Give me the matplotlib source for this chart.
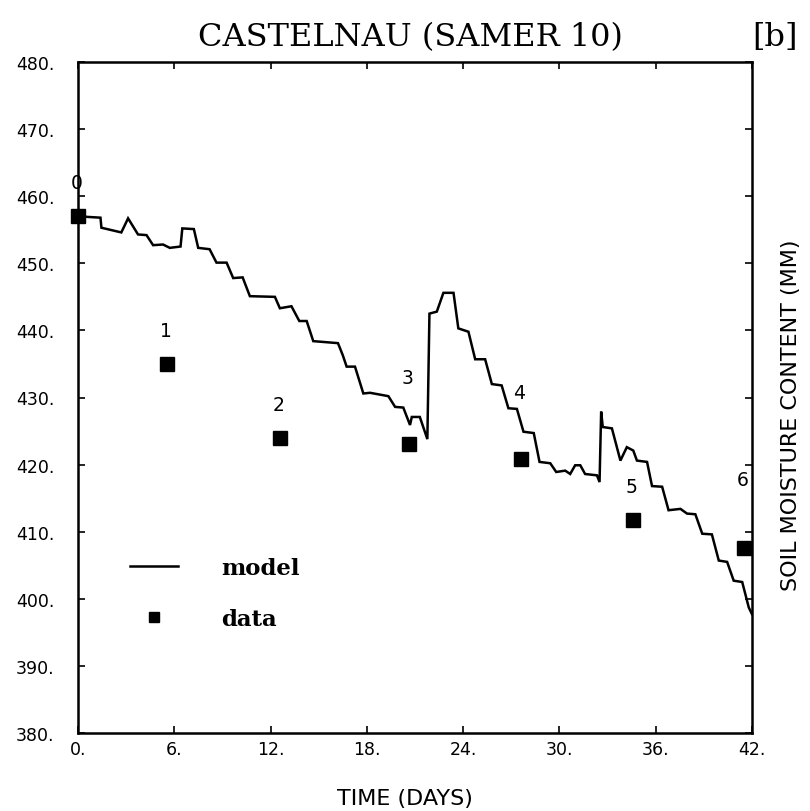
import matplotlib
matplotlib.use("Agg")
import matplotlib.pyplot as plt
from matplotlib.lines import Line2D
from matplotlib.ticker import FuncFormatter

# ---- data ----
model_days = [0, 1.4, 1.46, 2.7, 3.12, 3.74, 4.27, 4.68, 5.3, 5.72, 6.39, 6.5,
              7.22, 7.49, 8.2, 8.63, 9.26, 9.67, 10.26, 10.71, 12.27, 12.58,
              13.3, 13.79, 14.25, 14.66, 16.2, 16.5, 16.74, 17.26, 17.78, 18.2,
              19.34, 19.76, 20.27, 20.69, 20.8, 21.3, 21.77, 21.9, 22.36, 22.77,
              23.4, 23.7, 24.33, 24.75, 25.37, 25.79, 26.4, 26.82, 27.35, 27.76,
              28.4, 28.76, 29.43, 29.8, 30.36, 30.67, 30.98, 31.3, 31.6, 32.34,
              32.5, 32.6, 32.7, 33.27, 33.8, 34.2, 34.6, 34.83, 35.46, 35.77,
              36.4, 36.8, 37.54, 37.95, 38.47, 38.9, 39.5, 39.93, 40.45, 40.86,
              41.39, 41.8, 42]
model_values = [457.0, 456.8, 455.3, 454.6, 456.7, 454.3, 454.2, 452.7, 452.8,
                452.3, 452.5, 455.2, 455.1, 452.3, 452.1, 450.1, 450.1, 447.8,
                447.9, 445.1, 445.0, 443.3, 443.6, 441.4, 441.4, 438.4, 438.1,
                436.3, 434.6, 434.6, 430.6, 430.7, 430.2, 428.6, 428.5, 425.9,
                427.1, 427.1, 423.8, 442.5, 442.8, 445.6, 445.6, 440.3, 439.8,
                435.7, 435.7, 432.0, 431.8, 428.4, 428.3, 424.9, 424.7, 420.4,
                420.2, 418.9, 419.1, 418.6, 419.9, 419.9, 418.6, 418.4, 417.4,
                427.9, 425.6, 425.4, 420.6, 422.6, 422.1, 420.6, 420.4, 416.8,
                416.7, 413.2, 413.4, 412.7, 412.6, 409.7, 409.6, 405.7, 405.5,
                402.7, 402.5, 398.7, 397.7]

data_days = [0.0, 5.55, 12.57, 20.6, 27.6, 34.6, 41.5]
data_values = [457.0, 435.0, 424.0, 423.0, 420.8, 411.7, 407.5]
data_labels = ["0", "1", "2", "3", "4", "5", "6"]

x_ticks = [0, 6, 12, 18, 24, 30, 36, 42]
y_ticks = [380, 390, 400, 410, 420, 430, 440, 450, 460, 470, 480]

title = "CASTELNAU (SAMER 10)"
panel_tag = "[b]"
x_label = "TIME (DAYS)"
y_label = "SOIL MOISTURE CONTENT (MM)"

# ---- styling ----
label_offsets_pt = [24, 24, 24, 48, 48, 24, 50]
W, H = 810, 812
fig = plt.figure(figsize=(W / 100, H / 100), dpi=100)
left, right, top, bottom = 78, 752, 63, 734
ax = fig.add_axes([left / W, 1 - bottom / H, (right - left) / W, (bottom - top) / H])

ax.plot(model_days, model_values, color="black", lw=1.8, solid_joinstyle="miter")
ax.plot(data_days, data_values, linestyle="none", marker="s", color="black",
        markersize=10.5, clip_on=False, zorder=3)

for d, v, lab, off in zip(data_days, data_values, data_labels, label_offsets_pt):
    ax.annotate(lab, (d, v), xytext=(-1, off), textcoords="offset points",
                ha="center", va="center", fontsize=13.5, family="DejaVu Sans")

ax.set_xlim(x_ticks[0], x_ticks[-1])
ax.set_ylim(y_ticks[0], y_ticks[-1])
ax.set_xticks(x_ticks)
ax.set_yticks(y_ticks)
fmt = FuncFormatter(lambda v, p: f"{v:.0f}.")
ax.xaxis.set_major_formatter(fmt)
ax.yaxis.set_major_formatter(fmt)
ax.tick_params(axis="both", direction="in", length=5, width=1.2,
               top=True, right=True, labelsize=12.5)
ax.tick_params(axis="x", pad=5)
ax.tick_params(axis="y", pad=17)
for s in ax.spines.values():
    s.set_linewidth(1.8)

ax.set_xlabel(x_label, fontsize=16)
ax.xaxis.set_label_coords((405 - left) / (right - left), -(789 - bottom) / (bottom - top))
ax.yaxis.set_label_position("right")
ax.set_ylabel(y_label, fontsize=16)
ax.yaxis.set_label_coords((781 - left) / (right - left), (bottom - 415) / (bottom - top))

fig.text(0.507, 1 - 38 / H, title, ha="center", va="center",
         fontsize=23, family="DejaVu Serif")
fig.text(0.957, 1 - 38 / H, panel_tag, ha="center", va="center",
         fontsize=23, family="DejaVu Serif")

handles = [Line2D([], [], color="black", lw=1.8),
           Line2D([], [], color="black", marker="s", linestyle="none", markersize=7)]
ax.legend(handles, ["model", "data"], loc="upper left",
          bbox_to_anchor=(0.077, 0.262), frameon=False, borderpad=0,
          borderaxespad=0, handlelength=2.1, handletextpad=1.9,
          labelspacing=1.25,
          prop={"family": "DejaVu Serif", "weight": "bold", "size": 16.5})

fig.savefig("out.png", dpi=100)
